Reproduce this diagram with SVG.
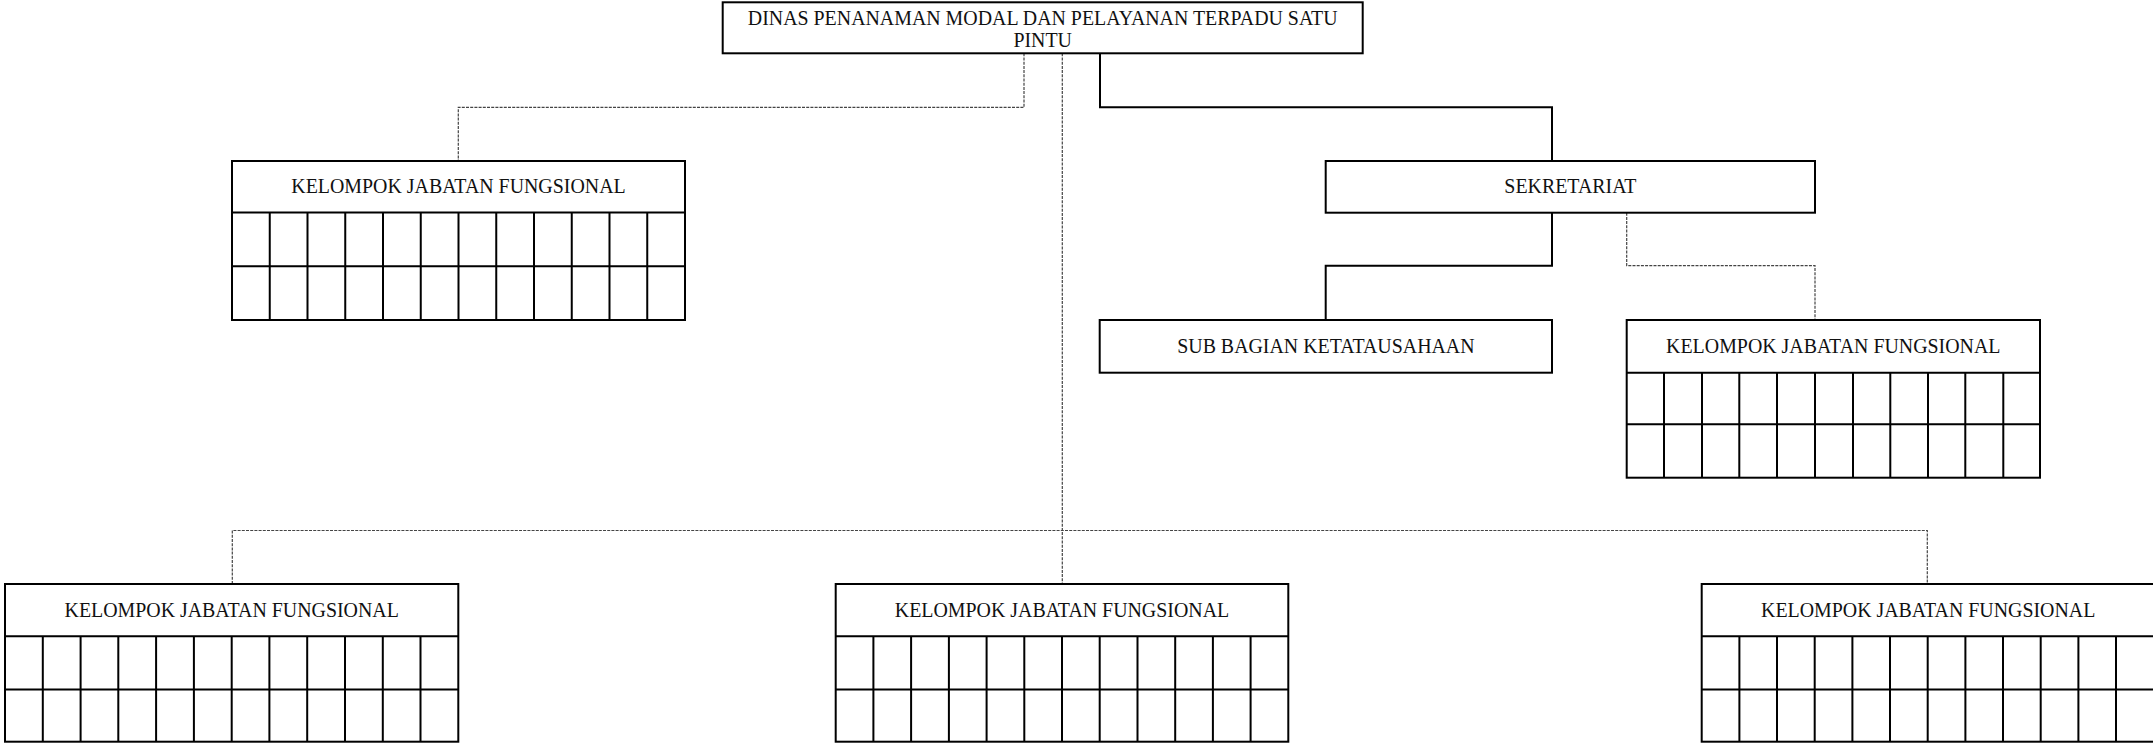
<svg xmlns="http://www.w3.org/2000/svg" width="2153" height="743" viewBox="0 0 2153 743">
<style>
.box{fill:#fff;stroke:#000;stroke-width:2}
.grid{stroke:#000;stroke-width:2;fill:none}
.solid{stroke:#000;stroke-width:2;fill:none}
.dash{stroke:#444;stroke-width:1.2;fill:none;stroke-dasharray:3 1.2}
.t{font-family:"Liberation Serif","Times New Roman",serif;font-size:19.9px;fill:#111;text-anchor:middle}
</style>
<rect width="2153" height="743" fill="#fff"/>
<g id="connectors">
<path class="dash" d="M1024,53.3 V107.3 H458.3 V161"/>
<path class="dash" d="M1062.3,53.3 V584"/>
<path class="dash" d="M232.3,584 V530.5 H1927.3 V584"/>
<path class="solid" d="M1100,53.3 V107.3 H1552 V161"/>
<path class="solid" d="M1552,212.7 V265.7 H1325.7 V320"/>
<path class="dash" d="M1626.7,212.7 V265.7 H1815 V320"/>
</g>
<g id="kepala">
<rect class="box" x="722.7" y="2.3" width="640" height="51"/>
<text class="t" x="1042.7" y="25">DINAS PENANAMAN MODAL DAN PELAYANAN TERPADU SATU</text>
<text class="t" x="1042.7" y="46.7">PINTU</text>
</g>
<g id="kjf-atas-kiri">
<rect class="box" x="232" y="161" width="453" height="159"/>
<path class="grid" d="M232,212.5 H685 M232,266.3 H685 M269.75,212.5 V320 M307.5,212.5 V320 M345.25,212.5 V320 M383,212.5 V320 M420.75,212.5 V320 M458.5,212.5 V320 M496.25,212.5 V320 M534,212.5 V320 M571.75,212.5 V320 M609.5,212.5 V320 M647.25,212.5 V320"/>
<text class="t" x="458.5" y="193.3">KELOMPOK JABATAN FUNGSIONAL</text>
</g>
<g id="sekretariat">
<rect class="box" x="1325.7" y="161" width="489.3" height="51.7"/>
<text class="t" x="1570.4" y="193.3">SEKRETARIAT</text>
</g>
<g id="subbagian">
<rect class="box" x="1099.7" y="320" width="452.3" height="52.7"/>
<text class="t" x="1325.9" y="353.2">SUB BAGIAN KETATAUSAHAAN</text>
</g>
<g id="kjf-sekretariat">
<rect class="box" x="1626.7" y="320" width="413.3" height="157.7"/>
<path class="grid" d="M1626.7,372.7 H2040 M1626.7,424.3 H2040 M1664,372.7 V477.7 M1702,372.7 V477.7 M1739.3,372.7 V477.7 M1777,372.7 V477.7 M1815,372.7 V477.7 M1853,372.7 V477.7 M1890.3,372.7 V477.7 M1928,372.7 V477.7 M1965.3,372.7 V477.7 M2003.3,372.7 V477.7"/>
<text class="t" x="1833.3" y="353.2">KELOMPOK JABATAN FUNGSIONAL</text>
</g>
<g id="kjf-bawah-kiri">
<rect class="box" x="5" y="584" width="453.3" height="157.7"/>
<path class="grid" d="M5,636.3 H458.3 M5,689.5 H458.3 M42.8,636.3 V741.7 M80.6,636.3 V741.7 M118.3,636.3 V741.7 M156.1,636.3 V741.7 M193.9,636.3 V741.7 M231.7,636.3 V741.7 M269.4,636.3 V741.7 M307.2,636.3 V741.7 M345,636.3 V741.7 M382.8,636.3 V741.7 M420.5,636.3 V741.7"/>
<text class="t" x="231.7" y="616.6">KELOMPOK JABATAN FUNGSIONAL</text>
</g>
<g id="kjf-bawah-tengah">
<rect class="box" x="835.7" y="584" width="452.6" height="157.7"/>
<path class="grid" d="M835.7,636.3 H1288.3 M835.7,689.5 H1288.3 M873.4,636.3 V741.7 M911.1,636.3 V741.7 M948.9,636.3 V741.7 M986.6,636.3 V741.7 M1024.3,636.3 V741.7 M1062,636.3 V741.7 M1099.7,636.3 V741.7 M1137.5,636.3 V741.7 M1175.2,636.3 V741.7 M1212.9,636.3 V741.7 M1250.6,636.3 V741.7"/>
<text class="t" x="1062" y="616.6">KELOMPOK JABATAN FUNGSIONAL</text>
</g>
<g id="kjf-bawah-kanan">
<rect class="box" x="1701.7" y="584" width="453" height="157.7"/>
<path class="grid" d="M1701.7,636.3 H2154.7 M1701.7,689.5 H2154.7 M1739.4,636.3 V741.7 M1777,636.3 V741.7 M1814.7,636.3 V741.7 M1852.4,636.3 V741.7 M1890,636.3 V741.7 M1927.7,636.3 V741.7 M1965.4,636.3 V741.7 M2003,636.3 V741.7 M2040.7,636.3 V741.7 M2078.4,636.3 V741.7 M2116,636.3 V741.7"/>
<text class="t" x="1928.2" y="616.6">KELOMPOK JABATAN FUNGSIONAL</text>
</g>
</svg>
